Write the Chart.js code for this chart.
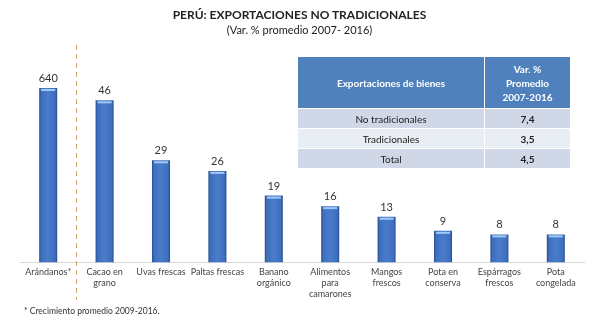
<!DOCTYPE html>
<html>
<head>
<meta charset="utf-8">
<script src="https://cdn.jsdelivr.net/npm/chart.js@4"></script>
<style>
  html, body { margin: 0; padding: 0; background: #fff; }
  #wrap { position: relative; width: 599px; height: 327px; overflow: hidden; font-family: Lato, "Open Sans", sans-serif; }
  #chart { position: absolute; left: 0; top: 0; }
  .title { position: absolute; left: 0; width: 599px; text-align: center; color: #222; }
  #t1 { top: 7px; font-size: 12px; font-weight: bold; }
  #t2 { top: 23px; font-size: 11px; }
  #note { position: absolute; left: 24px; top: 306px; font-size: 8.5px; color: #333; }
  table { position: absolute; left: 298px; top: 57px; width: 272px; border-collapse: collapse; font-size: 10px; }
  th { background: #4f81bd; color: #fff; font-weight: bold; height: 51px; padding: 0; line-height: 14px; }
  td { text-align: center; height: 19px; padding: 0; color: #222; border-top: 1px solid #fff; }
  tr.a td { background: #d0d8e8; }
  tr.b td { background: #e9edf4; }
  td.v { font-weight: bold; }
  th + th, td + td { border-left: 1px solid #fff; }
</style>
</head>
<body>
<div id="wrap">
  <canvas id="chart" width="599" height="327"></canvas>
  <div class="title" id="t1">PERÚ: EXPORTACIONES NO TRADICIONALES</div>
  <div class="title" id="t2">(Var. % promedio 2007- 2016)</div>
  <table id="tbl"></table>
  <div id="note">* Crecimiento promedio 2009-2016.</div>
</div>
<script>
// Productos y variación % promedio
const categories = [
  ["Arándanos*"], ["Cacao en", "grano"], ["Uvas frescas"], ["Paltas frescas"],
  ["Banano", "orgánico"], ["Alimentos", "para", "camarones"], ["Mangos", "frescos"],
  ["Pota en", "conserva"], ["Espárragos", "frescos"], ["Pota", "congelada"]
];
const values = [640, 46, 29, 26, 19, 16, 13, 9, 8, 8];

// Tabla resumen
const tableRows = ["No tradicionales", "Tradicionales", "Total"];
const tableValues = ["7,4", "3,5", "4,5"];

// ----------------------------------
// Summary table
// ----------------------------------
const tbl = document.getElementById("tbl");
let html = '<tr><th style="width:186px">Exportaciones de bienes</th><th>Var. %<br>Promedio<br>2007-2016</th></tr>';
tableRows.forEach((r, i) => {
  html += `<tr class="${i % 2 ? "b" : "a"}"><td>${r}</td><td class="v">${tableValues[i]}</td></tr>`;
});
tbl.innerHTML = html;

// bar fill: darker edges, lighter middle
function barFill(context) {
  const chart = context.chart;
  const xs = chart.scales.x;
  if (!chart.chartArea || !xs) return "#4275c6";
  const cx = xs.getPixelForValue(context.dataIndex);
  const half = 9;
  const g = chart.ctx.createLinearGradient(cx - half, 0, cx + half, 0);
  g.addColorStop(0, "#2b4f8e");
  g.addColorStop(0.12, "#3e6fbe");
  g.addColorStop(0.5, "#4a7ccc");
  g.addColorStop(0.88, "#3e6fbe");
  g.addColorStop(1, "#2b4f8e");
  return g;
}

// ----------------------------------
// Bar labels, highlight and dashed separator
// ----------------------------------
const extras = {
  id: "extras",
  afterDatasetsDraw(chart) {
    const ctx = chart.ctx;
    const meta = chart.getDatasetMeta(0);
    ctx.save();
    meta.data.forEach((bar, i) => {
      const top = Math.max(bar.y, chart.chartArea.top);
      // top highlight
      ctx.fillStyle = "rgba(170,210,250,0.9)";
      ctx.fillRect(bar.x - bar.width / 2 + 2, top + 1, bar.width - 4, 2);
      // value label
      ctx.fillStyle = "#333";
      ctx.font = "11px Lato, 'Open Sans', sans-serif";
      ctx.textAlign = "center";
      ctx.textBaseline = "bottom";
      ctx.fillText(values[i], bar.x, top - 4);
    });
    // dashed separator between first and second category
    const xs = chart.scales.x;
    const sx = Math.round((xs.getPixelForValue(0) + xs.getPixelForValue(1)) / 2) + 0.5;
    ctx.strokeStyle = "#c9a46a";
    ctx.lineWidth = 1;
    ctx.setLineDash([5, 4]);
    ctx.beginPath();
    ctx.moveTo(sx, 45);
    ctx.lineTo(sx, 300);
    ctx.stroke();
    ctx.restore();
  }
};

new Chart(document.getElementById("chart"), {
  type: "bar",
  data: {
    labels: categories,
    datasets: [{
      data: values,
      backgroundColor: barFill,
      borderWidth: 0,
      categoryPercentage: 1,
      barPercentage: 0.32
    }]
  },
  options: {
    responsive: false,
    animation: false,
    layout: { padding: { top: 88, left: 20, right: 15, bottom: 24 } },
    plugins: { legend: { display: false }, tooltip: { enabled: false } },
    scales: {
      x: {
        grid: { display: false, drawTicks: false, tickLength: 0 },
        border: { color: "#d9d9d9", width: 1 },
        ticks: {
          color: "#444",
          font: { family: "Lato, 'Open Sans', sans-serif", size: 9 },
          maxRotation: 0,
          autoSkip: false,
          padding: 4
        }
      },
      y: {
        display: false,
        min: 0,
        max: 49.5
      }
    }
  },
  plugins: [extras]
});
</script>
</body>
</html>
